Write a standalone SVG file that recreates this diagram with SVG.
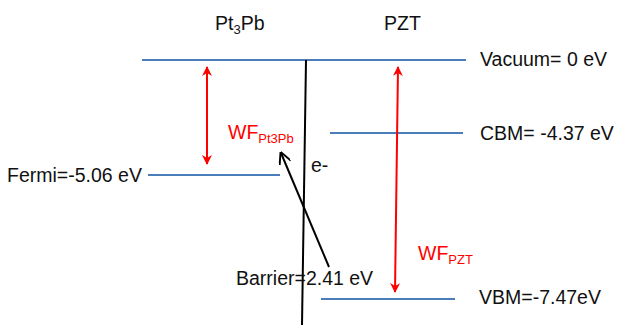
<svg xmlns="http://www.w3.org/2000/svg" width="618" height="325" viewBox="0 0 618 325">
  <defs>
    <marker id="redHead" viewBox="0 0 10 10" refX="9" refY="5" markerWidth="5" markerHeight="5" orient="auto-start-reverse">
      <path d="M0,0 L10,5 L0,10 L3,5 z" fill="#ff0000"/>
    </marker>
    <marker id="blackHead" viewBox="0 0 10 10" refX="9" refY="5" markerWidth="6" markerHeight="6" orient="auto">
      <path d="M0,0 L10,5 L0,10" fill="none" stroke="#000" stroke-width="1.6"/>
    </marker>
  </defs>
  <style>
    .level { stroke: #4a7ebb; stroke-width: 2; fill: none; }
    .label { font-family: "Liberation Sans", Arial, sans-serif; font-size: 19.5px; fill: #111; }
    .red { font-family: "Liberation Sans", Arial, sans-serif; fill: #ff0000; }
    .wf { stroke: #ff0000; stroke-width: 2; fill: none; marker-start: url(#redHead); marker-end: url(#redHead); }
  </style>
  <rect width="618" height="325" fill="#fff"/>

  <!-- material headings -->
  <g id="head-pt3pb"><text class="label" x="215" y="30">Pt<tspan font-size="13" dy="4">3</tspan><tspan dy="-4">Pb</tspan></text></g>
  <g id="head-pzt"><text class="label" x="384" y="30">PZT</text></g>

  <!-- energy levels -->
  <g id="vacuum">
    <line class="level" x1="142" y1="60" x2="466" y2="60"/>
    <text class="label" x="480" y="66">Vacuum= 0 eV</text>
  </g>
  <g id="cbm">
    <line class="level" x1="330" y1="133" x2="463" y2="133"/>
    <text class="label" x="480" y="140">CBM= -4.37 eV</text>
  </g>
  <g id="fermi">
    <line class="level" x1="148" y1="175" x2="280" y2="175"/>
    <text class="label" x="7" y="182">Fermi=-5.06 eV</text>
  </g>
  <g id="vbm">
    <line class="level" x1="321" y1="299" x2="455" y2="299"/>
    <text class="label" x="479" y="304">VBM=-7.47eV</text>
  </g>

  <!-- interface -->
  <g id="interface">
    <line x1="306" y1="60" x2="302" y2="325" stroke="#000" stroke-width="2"/>
    <text class="label" x="311" y="172">e-</text>
  </g>

  <!-- work function labels -->
  <g id="wf-pt3pb"><text class="red" x="228" y="139" font-size="19.5">WF<tspan font-size="13" dy="4">Pt3Pb</tspan></text></g>
  <g id="wf-pzt"><text class="red" x="418" y="260" font-size="19.5">WF<tspan font-size="13" dy="4">PZT</tspan></text></g>
  <g id="barrier"><text class="label" x="236" y="285">Barrier=2.41 eV</text></g>

  <!-- connectors -->
  <g id="connectors">
    <line class="wf" x1="207" y1="67" x2="207" y2="164"/>
    <line class="wf" x1="398" y1="67" x2="395" y2="292"/>
    <line x1="329" y1="267" x2="281" y2="153" stroke="#000" stroke-width="2" marker-end="url(#blackHead)"/>
  </g>
</svg>
